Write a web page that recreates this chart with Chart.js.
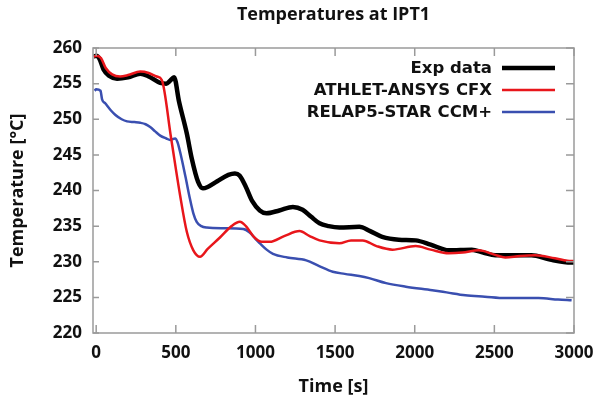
<!DOCTYPE html>
<html>
<head>
<meta charset="utf-8">
<script src="https://cdn.jsdelivr.net/npm/chart.js@4/dist/chart.umd.min.js"></script>
<style>
  html, body { margin: 0; padding: 0; background: #fff; }
  #wrap { width: 597px; height: 404px; }
</style>
</head>
<body>
<div id="wrap"><canvas id="tempChart"></canvas></div>
<script>
// Exp data (black)
const expTime = [-15, 0, 20, 46, 80, 131, 200, 277, 330, 402, 440, 464, 489, 520, 569, 600, 640, 670, 700, 760, 830, 871, 900, 940, 980, 1027, 1069, 1150, 1235, 1296, 1350, 1402, 1460, 1527, 1652, 1720, 1796, 1900, 2006, 2100, 2214, 2358, 2430, 2506, 2600, 2733, 2850, 2983, 3000];
const expTemp = [258.8, 258.9, 258.5, 257.0, 256.1, 255.7, 255.9, 256.4, 256.0, 255.1, 255.0, 255.4, 255.9, 252.5, 248.0, 244.5, 241.2, 240.3, 240.5, 241.3, 242.2, 242.4, 242.1, 240.5, 238.5, 237.2, 236.8, 237.2, 237.7, 237.3, 236.3, 235.4, 235.0, 234.8, 234.9, 234.3, 233.5, 233.1, 233.0, 232.4, 231.6, 231.7, 231.3, 230.9, 230.9, 230.9, 230.3, 229.9, 229.9];

// ATHLET-ANSYS CFX (red)
const athletTime = [-15, 0, 30, 60, 100, 150, 200, 277, 330, 380, 412, 470, 527, 569, 610, 652, 700, 777, 850, 902, 940, 990, 1040, 1090, 1180, 1277, 1340, 1402, 1527, 1600, 1673, 1760, 1860, 2006, 2100, 2214, 2300, 2402, 2500, 2569, 2660, 2756, 2880, 2985, 3000];
const athletTemp = [258.8, 258.9, 258.6, 257.2, 256.3, 256.0, 256.2, 256.7, 256.5, 256.0, 255.5, 247.4, 239.3, 234.2, 231.6, 230.7, 231.8, 233.4, 235.0, 235.6, 235.0, 233.5, 232.8, 232.8, 233.6, 234.3, 233.6, 233.0, 232.6, 233.0, 233.0, 232.2, 231.7, 232.2, 231.7, 231.2, 231.3, 231.6, 231.0, 230.6, 230.8, 230.9, 230.5, 230.1, 230.1];

// RELAP5-STAR CCM+ (blue)
const relapTime = [-10, 0, 27, 37, 58, 90, 121, 160, 194, 240, 277, 310, 339, 370, 402, 440, 464, 496, 510, 527, 560, 589, 610, 631, 660, 694, 800, 923, 964, 1000, 1027, 1070, 1110, 1200, 1319, 1400, 1485, 1560, 1652, 1714, 1820, 1944, 2110, 2200, 2318, 2440, 2569, 2777, 2900, 2985];
const relapTemp = [254.0, 254.2, 254.0, 252.8, 252.2, 251.3, 250.6, 250.0, 249.7, 249.6, 249.5, 249.3, 248.9, 248.3, 247.7, 247.3, 247.1, 247.3, 246.8, 245.4, 242.0, 238.8, 236.8, 235.6, 235.0, 234.8, 234.7, 234.6, 234.1, 233.2, 232.6, 231.7, 231.1, 230.6, 230.2, 229.4, 228.6, 228.3, 228.0, 227.7, 227.0, 226.5, 226.0, 225.7, 225.3, 225.1, 224.9, 224.9, 224.7, 224.6];

const seriesLabels = ["Exp data", "ATHLET-ANSYS CFX", "RELAP5-STAR CCM+"];
const seriesColors = ["#000000", "#e8161b", "#3a4fb0"];
const seriesWidths = [4.5, 2.5, 2.5];

const xTicks = [0, 500, 1000, 1500, 2000, 2500, 3000];
const yTicks = [220, 225, 230, 235, 240, 245, 250, 255, 260];
const xMin = -20, xMax = 3000;
const yMin = 220, yMax = 260;

const chartTitle = "Temperatures at IPT1";
const TICK_FONT = { family: "Open Sans", size: 17, weight: "bold" };
const TITLE_FONT = { family: "Open Sans", size: 18, weight: "bold" };
const FRAME = "#9a9a9a";

function toPoints(xs, ys) {
  return xs.map((x, i) => ({ x: x, y: ys[i] }));
}

// title centred over the plot area, not the canvas
const plotTitle = {
  id: "plotTitle",
  afterDraw(chart) {
    const { ctx, chartArea: a } = chart;
    ctx.save();
    ctx.font = "bold 18px 'Open Sans'";
    ctx.fillStyle = "#111";
    ctx.textAlign = "center";
    ctx.textBaseline = "middle";
    ctx.fillText(chartTitle, (a.left + a.right) / 2, 15);
    ctx.restore();
  },
};

// frame + inward ticks on all four sides
const frameTicks = {
  id: "frameTicks",
  afterDraw(chart) {
    const { ctx, chartArea: a, scales } = chart;
    ctx.save();
    ctx.strokeStyle = FRAME;
    ctx.lineWidth = 1.5;
    ctx.strokeRect(a.left, a.top, a.right - a.left, a.bottom - a.top);
    ctx.beginPath();
    scales.x.ticks.forEach((t) => {
      const px = scales.x.getPixelForValue(t.value);
      ctx.moveTo(px, a.bottom);
      ctx.lineTo(px, a.bottom - 8);
      ctx.moveTo(px, a.top);
      ctx.lineTo(px, a.top + 8);
    });
    scales.y.ticks.forEach((t) => {
      const py = scales.y.getPixelForValue(t.value);
      ctx.moveTo(a.left, py);
      ctx.lineTo(a.left + 6, py);
      ctx.moveTo(a.right, py);
      ctx.lineTo(a.right - 8, py);
    });
    ctx.stroke();
    ctx.restore();
  },
};

// legend inside plot, text right-aligned with sample line on the right
const innerLegend = {
  id: "innerLegend",
  afterDraw(chart) {
    const { ctx } = chart;
    const textRight = 492, lineX0 = 502, lineX1 = 555;
    const rowY = [68, 90, 112];
    ctx.save();
    ctx.font = "bold 16.5px 'DejaVu Sans'";
    ctx.textAlign = "right";
    ctx.textBaseline = "middle";
    seriesLabels.forEach((label, i) => {
      ctx.fillStyle = "#111";
      ctx.fillText(label, textRight, rowY[i] + 1);
      ctx.strokeStyle = seriesColors[i];
      ctx.lineWidth = seriesWidths[i];
      ctx.beginPath();
      ctx.moveTo(lineX0, rowY[i]);
      ctx.lineTo(lineX1, rowY[i]);
      ctx.stroke();
    });
    ctx.restore();
  },
};

function makeDataset(i, xs, ys, order) {
  return {
    label: seriesLabels[i],
    data: toPoints(xs, ys),
    borderColor: seriesColors[i],
    backgroundColor: seriesColors[i],
    borderWidth: seriesWidths[i],
    pointRadius: 0,
    fill: false,
    cubicInterpolationMode: "monotone",
    order: order,
  };
}

const chart = new Chart(document.getElementById("tempChart"), {
  type: "line",
  data: {
    datasets: [
      makeDataset(0, expTime, expTemp, 3),
      makeDataset(1, athletTime, athletTemp, 1),
      makeDataset(2, relapTime, relapTemp, 2),
    ],
  },
  options: {
    responsive: true,
    maintainAspectRatio: false,
    animation: false,
    devicePixelRatio: 1,
    layout: { padding: { left: 0, right: 23, top: 48, bottom: 0 } },
    plugins: {
      legend: { display: false },
      tooltip: { enabled: false },
      title: { display: false },
    },
    scales: {
      x: {
        type: "linear",
        min: xMin,
        max: xMax,
        afterBuildTicks(scale) { scale.ticks = xTicks.map((v) => ({ value: v })); },
        afterFit(scale) {
          scale.height = 71;
          scale.paddingLeft = 0;
          scale.paddingRight = 0;
        },
        grid: { display: false, drawTicks: false },
        border: { display: false },
        ticks: {
          color: "#111",
          font: TICK_FONT,
          padding: 10,
          maxRotation: 0,
          autoSkip: false,
          callback: (v) => String(v),
        },
        title: {
          display: true,
          text: "Time [s]",
          color: "#111",
          font: TITLE_FONT,
          padding: { top: 0, bottom: 6 },
        },
      },
      y: {
        min: yMin,
        max: yMax,
        afterBuildTicks(scale) { scale.ticks = yTicks.map((v) => ({ value: v })); },
        afterFit(scale) {
          scale.width = 93;
          scale.paddingTop = 0;
          scale.paddingBottom = 0;
        },
        grid: { display: false, drawTicks: false },
        border: { display: false },
        ticks: {
          color: "#111",
          font: TICK_FONT,
          padding: 11,
          autoSkip: false,
          callback: (v) => String(v),
        },
        title: {
          display: true,
          text: "Temperature [°C]",
          color: "#111",
          font: TITLE_FONT,
          padding: { top: 7, bottom: 0 },
        },
      },
    },
  },
  plugins: [frameTicks, innerLegend, plotTitle],
});
</script>
</body>
</html>
